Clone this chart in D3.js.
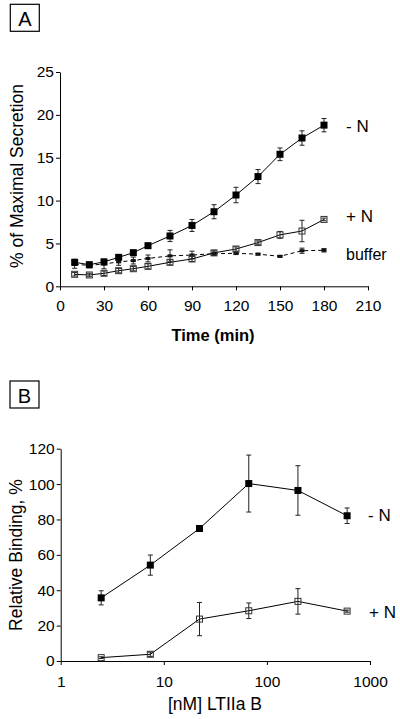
<!DOCTYPE html>
<html><head><meta charset="utf-8">
<script src="https://cdn.jsdelivr.net/npm/d3@7"></script>
<style>
html,body{margin:0;padding:0;background:#fff;}
svg text{font-family:"Liberation Sans",Arial,Helvetica,sans-serif;fill:#000;}
</style></head>
<body>
<svg id="c" width="400" height="719"></svg>
<script>
// ---- Panel A data ----
const timeMin = [10,20,30,40,50,60,75,90,105,120,135,150,165,180];
const secMinusN = [2.8,2.52,2.85,3.38,3.92,4.74,5.87,7.1,8.7,10.65,12.8,15.4,17.3,18.8];
const secMinusNErr = [0.35,0.3,0.3,0.25,0.3,0.25,0.65,0.7,0.82,0.9,0.82,0.74,0.84,0.78];
const secPlusN = [1.4,1.32,1.52,1.82,2.05,2.33,2.8,3.19,3.9,4.35,5.1,6.0,6.45,7.8];
const secPlusNErr = [0.2,0.2,0.25,0.25,0.25,0.3,0.3,0.3,0.25,0.25,0.2,0.4,1.25,0.15];
const secBuffer = [2.55,2.45,2.6,2.85,3.0,3.25,3.55,3.65,3.8,3.85,3.75,3.5,4.15,4.2];
const secBufferErr = [0.45,0.3,0.55,0.4,0.4,0.4,0.7,0.45,0.2,0.15,0.1,0.1,0.3,0.2];
const timeTicks = [0,30,60,90,120,150,180,210];
const secTicks = [0,5,10,15,20,25];
// ---- Panel B data ----
const concNM = [2.47,7.4,22.2,66.7,200,600];
const bindMinusN = [35.7,54.2,74.9,100.3,96.4,82.1];
const bindMinusNErr = [4.0,5.7,0.8,16.1,14.0,4.4];
const bindPlusN = [1.9,3.8,23.7,28.4,33.7,28.2];
const bindPlusNErr = [0.5,1.2,9.4,4.4,7.2,0.6];
const concTicks = [1,10,100,1000];
const bindTicks = [0,20,40,60,80,100,120];

const svg = d3.select("#c");

function panelLabel(letter, x, y) {
  svg.append("rect").attr("x", x).attr("y", y).attr("width", 29).attr("height", 27)
    .attr("fill", "none").attr("stroke", "#000").attr("stroke-width", 1.2);
  svg.append("text").attr("x", x + 14.5).attr("y", y + 21.5).attr("text-anchor", "middle")
    .attr("font-size", 20).text(letter);
}

function styleAxis(g) {
  g.selectAll("path.domain").attr("stroke", "#000").attr("stroke-width", 1);
  g.selectAll(".tick line").attr("stroke", "#000").attr("stroke-width", 1);
  g.selectAll(".tick text").attr("font-size", 15.5).attr("font-family", null).attr("fill", "#000");
}

function errorBars(g, xs, ys, es, x, y) {
  const gg = g.append("g").attr("stroke", "#222").attr("stroke-width", 1);
  xs.forEach((xv, i) => {
    const cx = x(xv), y1 = y(ys[i] - es[i]), y2 = y(ys[i] + es[i]);
    gg.append("line").attr("x1", cx).attr("x2", cx).attr("y1", y1).attr("y2", y2);
    gg.append("line").attr("x1", cx - 2.5).attr("x2", cx + 2.5).attr("y1", y1).attr("y2", y1);
    gg.append("line").attr("x1", cx - 2.5).attr("x2", cx + 2.5).attr("y1", y2).attr("y2", y2);
  });
}

function series(g, xs, ys, es, x, y, opts) {
  const line = d3.line().x((d, i) => x(xs[i])).y(d => y(d));
  g.append("path").datum(ys).attr("d", line).attr("fill", "none")
    .attr("stroke", "#000").attr("stroke-width", 1)
    .attr("stroke-dasharray", opts.dash || null);
  errorBars(g, xs, ys, es, x, y);
  const s = opts.size;
  g.append("g").selectAll("rect").data(ys).join("rect")
    .attr("x", (d, i) => x(xs[i]) - (opts.w || s) / 2)
    .attr("y", d => y(d) - (opts.h || s) / 2)
    .attr("width", opts.w || s).attr("height", opts.h || s)
    .attr("fill", opts.fill).attr("stroke", opts.stroke || "none").attr("stroke-width", 1);
}

// ================= Panel A =================
panelLabel("A", 10.3, 4.3);
const xA = d3.scaleLinear().domain([0, 210]).range([60, 368]);
const yA = d3.scaleLinear().domain([0, 25]).range([286.3, 72]);
const gA = svg.append("g");
const axA = gA.append("g").attr("transform", "translate(0,286.3)")
  .call(d3.axisBottom(xA).tickValues(timeTicks).tickSize(4).tickSizeOuter(0).tickPadding(10).tickFormat(d3.format("d")));
styleAxis(axA);
const ayA = gA.append("g").attr("transform", "translate(60,0)")
  .call(d3.axisLeft(yA).tickValues(secTicks).tickSize(4).tickSizeOuter(0).tickPadding(2).tickFormat(d3.format("d")));
styleAxis(ayA);

series(gA, timeMin, secBuffer, secBufferErr, xA, yA, {dash: "4,3", w: 5, h: 3, fill: "#111"});
series(gA, timeMin, secPlusN, secPlusNErr, xA, yA, {size: 6, fill: "none", stroke: "#333"});
series(gA, timeMin, secMinusN, secMinusNErr, xA, yA, {size: 7, fill: "#000"});

gA.append("text").attr("x", 346).attr("y", 132).attr("font-size", 17).text("- N");
gA.append("text").attr("x", 346).attr("y", 222).attr("font-size", 17).text("+ N");
gA.append("text").attr("x", 346).attr("y", 260).attr("font-size", 16).text("buffer");
gA.append("text").attr("x", 213).attr("y", 341).attr("text-anchor", "middle")
  .attr("font-size", 16.5).attr("font-weight", "bold").text("Time (min)");
gA.append("text").attr("transform", "translate(23,176) rotate(-90)").attr("text-anchor", "middle")
  .attr("font-size", 17.5).text("% of Maximal Secretion");

// ================= Panel B =================
panelLabel("B", 10, 381);
const xB = d3.scaleLog().domain([1, 1000]).range([60.7, 370]);
const yB = d3.scaleLinear().domain([0, 120]).range([661, 448.7]);
const gB = svg.append("g");
const axB = gB.append("g").attr("transform", "translate(0,661)")
  .call(d3.axisBottom(xB).tickValues(concTicks).tickSize(4).tickSizeOuter(0).tickPadding(11).tickFormat(d3.format("d")));
styleAxis(axB);
const ayB = gB.append("g").attr("transform", "translate(60.7,0)")
  .call(d3.axisLeft(yB).tickValues(bindTicks).tickSize(4).tickSizeOuter(0).tickPadding(2).tickFormat(d3.format("d")));
styleAxis(ayB);

series(gB, concNM, bindPlusN, bindPlusNErr, xB, yB, {size: 6, fill: "none", stroke: "#333"});
series(gB, concNM, bindMinusN, bindMinusNErr, xB, yB, {size: 7, fill: "#000"});

gB.append("text").attr("x", 368).attr("y", 521).attr("font-size", 17).text("- N");
gB.append("text").attr("x", 369).attr("y", 618).attr("font-size", 17).text("+ N");
gB.append("text").attr("x", 215).attr("y", 710).attr("text-anchor", "middle")
  .attr("font-size", 17.5).text("[nM] LTIIa B");
gB.append("text").attr("transform", "translate(22,555) rotate(-90)").attr("text-anchor", "middle")
  .attr("font-size", 17.5).text("Relative Binding, %");
</script>
</body></html>
